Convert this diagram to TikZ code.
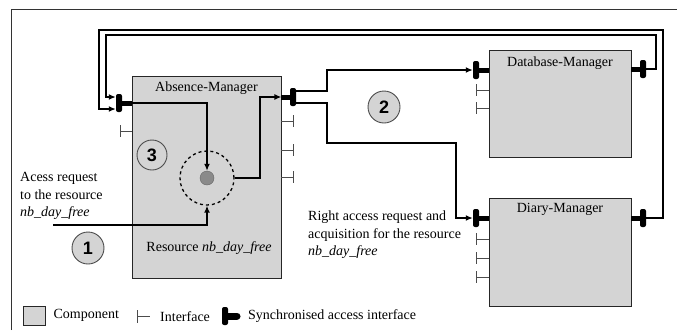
\documentclass[tikz,border=0pt]{standalone}
\usepackage{fontspec}
\setmainfont{Liberation Serif}
\newfontfamily\numfont{Liberation Sans}
\usetikzlibrary{positioning,arrows.meta}
\definecolor{compfill}{HTML}{D4D4D4}
\definecolor{tokfill}{HTML}{8A8A8A}

\tikzset{
  comp/.style={draw=black!85, fill=compfill, line width=0.9pt, inner sep=0pt},
  title/.style={font=\fontsize{14}{17}\selectfont, inner sep=1pt},
  conn/.style={line width=2pt},
  tip/.style={-{Latex[length=7pt,width=6pt]}},
  syncbar/.style={fill=black, rounded corners=2pt, minimum width=6pt, minimum height=18pt, inner sep=0pt},
  stem/.style={line width=5pt},
  iface/.style={draw=black!70, line width=1pt},
  stepnum/.style={circle, draw=black!70, fill=compfill, line width=0.9pt, minimum size=32pt, inner sep=0pt, font=\numfont\bfseries\fontsize{18}{18}\selectfont},
  txt/.style={font=\fontsize{14}{17.5}\selectfont, inner sep=0pt, align=left},
}

\begin{document}
\begin{tikzpicture}[x=1pt,y=-1pt]
    \useasboundingbox (0,0) rectangle (677,330);
    \draw[black!80, line width=1pt] (11,330) -- (11,9) -- (677,9);

    % components
    \node[comp, minimum width=149pt, minimum height=202pt] (absence) at (206.5,177) {};
    \node[comp, minimum width=142pt, minimum height=107pt] (database) at (560,103.5) {};
    \node[comp, minimum width=142pt, minimum height=108pt] (diary) at (560,252) {};
    \node[title, below=5pt of absence.north] {Absence-Manager};
    \node[title, below=6pt of database.north] {Database-Manager};
    \node[title, below=4pt of diary.north] {Diary-Manager};

    % synchronised access interfaces
    \node[syncbar] (absL) at (119,103) {};
    \node[syncbar] (absR) at (293,97) {};
    \node[syncbar] (dbL) at (476,70) {};
    \node[syncbar] (dbR) at (643,69) {};
    \node[syncbar] (diaL) at (476,218) {};
    \node[syncbar] (diaR) at (643,218) {};
    \draw[stem] (absL) -- (absence.west |- absL);
    \draw[stem] (absR) -- (absence.east |- absR);
    \draw[stem] (dbL) -- (database.west |- dbL);
    \draw[stem] (dbR) -- (database.east |- dbR);
    \draw[stem] (diaL) -- (diary.west |- diaL);
    \draw[stem] (diaR) -- (diary.east |- diaR);

    % plain interfaces
    \draw[iface] (132,131) -- ++(-12,0) ++(0,-6) -- ++(0,12);
    \foreach \y in {121,150,177}
      \draw[iface] (281,\y) -- ++(12,0) ++(0,-6) -- ++(0,12);
    \foreach \y in {90,108}
      \draw[iface] (489,\y) -- ++(-13,0) ++(0,-6) -- ++(0,12);
    \foreach \y in {239,258,277}
      \draw[iface] (489,\y) -- ++(-13,0) ++(0,-6) -- ++(0,12);

    % the shared resource
    \node[draw, dashed, circle, minimum size=54pt, line width=1.3pt] (res) at (207,178) {};
    \node[circle, fill=tokfill, draw=black!60, minimum size=14pt, inner sep=0pt] (tok) at (res) {};
    \node[txt] (restxt) at (209,248) {Resource \textit{nb\_day\_free}};

    \coordinate (reqin) at (53,225);
    \draw[conn, tip] (absence.west |- absL) -| (tok.north);
    \draw[conn, tip] (reqin) -| (res.south);
    \draw[conn, tip] (res.east) -- (260,178) |- (absence.east |- absR);

    % requests to the other managers
    \draw[conn, tip] ([yshift=6pt]absR.east) -| (327,70) -- (dbL.west);
    \draw[conn, tip] ([yshift=-6pt]absR.east) -| (327,143) -| (456,218) -- (diaL.west);

    % answers back to the Absence-Manager
    \draw[conn, tip] (dbR.east) -| (656,35) -| (106,97) -- ([yshift=6pt]absL.west);
    \draw[conn, tip] (diaR.east) -| (663,30) -| (99,109) -- ([yshift=-6pt]absL.west);

    \node[txt, anchor=west] (reqtxt) at (20,196) {Acess request\\to the resource\\\textit{nb\_day\_free}};
    \node[txt, anchor=west] (acqtxt) at (308,235) {Right access request and\\acquisition for the resource\\\textit{nb\_day\_free}};

    \node[stepnum] (n1) at (88,248) {1};
    \node[stepnum] (n2) at (384,107) {2};
    \node[stepnum, minimum size=30pt] (n3) at (152,155) {3};

    % legend
    \node[comp, minimum width=22pt, minimum height=19pt] (legcomp) at (34,315.5) {};
    \node[txt, right=8pt of legcomp] (legcomptxt) {Component};
    \draw[iface] (137,310) -- (137,323) (137,316.5) -- (150,316.5);
    \node[txt, anchor=west] (legiftxt) at (160,316.5) {Interface};
    \node[syncbar] (legbar) at (225,316) {};
    \draw[line width=7pt, line cap=round] (legbar) -- (237,316);
    \node[txt, anchor=west] (legsynctxt) at (248,316.5) {Synchronised access interface};
\end{tikzpicture}
\end{document}
